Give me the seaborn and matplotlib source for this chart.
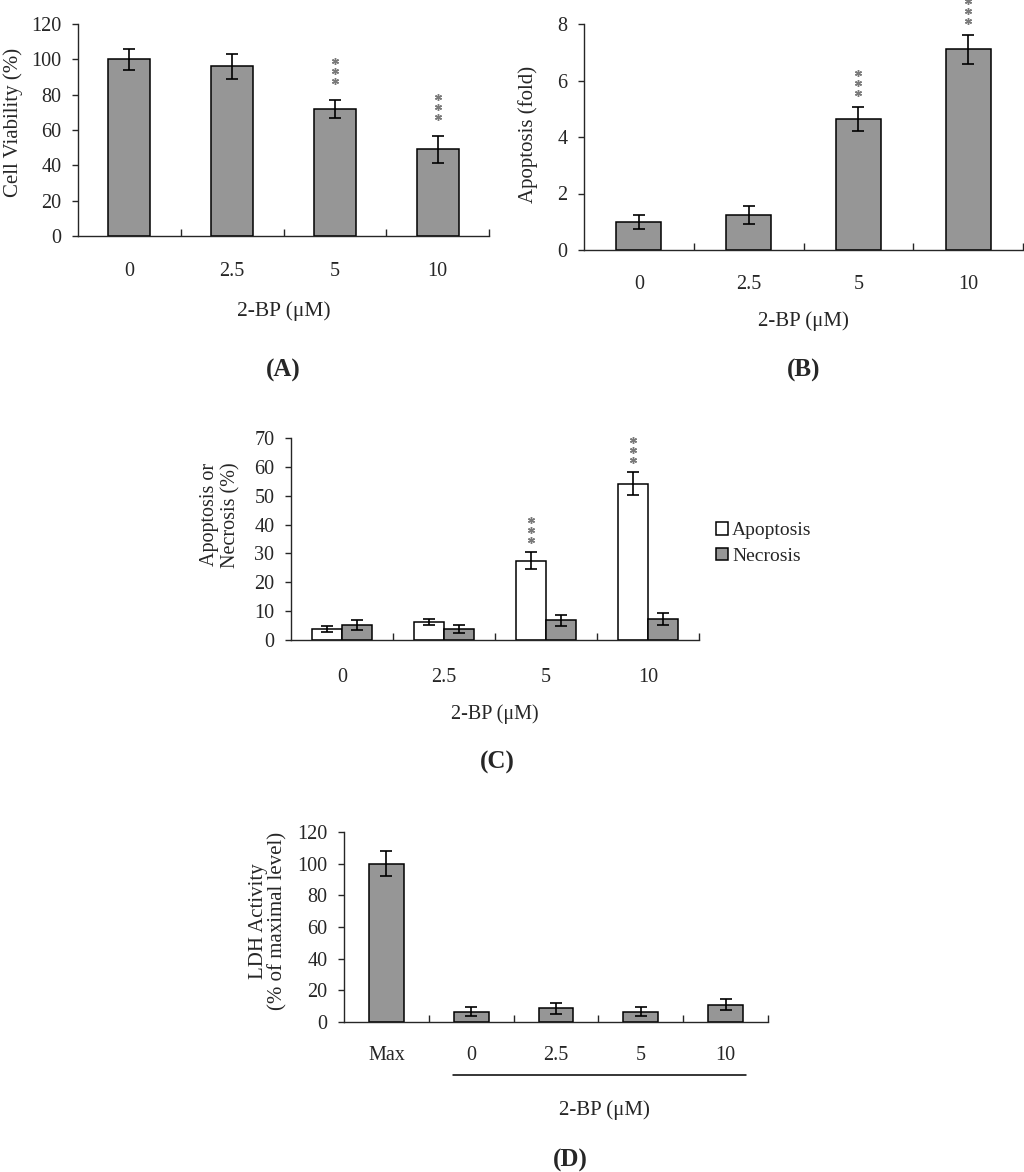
import numpy as np
import pandas as pd
import matplotlib
matplotlib.use("Agg")
import matplotlib.pyplot as plt
import matplotlib.transforms as mtransforms
import seaborn as sns

# ---- data ----
doses = ["0", "2.5", "5", "10"]

# (A) cell viability
viability = [100, 96, 72, 49]
viability_sd = [6, 7, 5, 7.5]

# (B) apoptosis fold
apop_fold = [1.0, 1.23, 4.65, 7.1]
apop_fold_sd = [0.25, 0.32, 0.42, 0.52]

# (C) apoptosis / necrosis %
apoptosis_pct = [3.8, 6.3, 27.5, 54.2]
apoptosis_sd = [0.9, 1.1, 2.9, 4.1]
necrosis_pct = [5.1, 3.7, 6.8, 7.2]
necrosis_sd = [1.7, 1.4, 1.8, 2.0]

# (D) LDH activity
ldh_labels = ["Max", "0", "2.5", "5", "10"]
ldh = [100, 6.5, 8.8, 6.5, 11]
ldh_sd = [8, 3, 3.5, 3, 3.6]

GRAY = "#969696"
STAR = "#7a7a7a"
W, H = 1024, 1172

sns.set_style("ticks")
plt.rcParams["font.family"] = ["Liberation Serif", "DejaVu Serif"]
plt.rcParams["axes.linewidth"] = 1.0

fig = plt.figure(figsize=(W / 100, H / 100), dpi=100)


def make_axes(left, right, top, bottom):
    # pixel box -> figure fraction
    return fig.add_axes([left / W, 1 - bottom / H, (right - left) / W, (bottom - top) / H])


def style_axes(ax, n, ymax, ystep, xpad):
    ax.set_xlim(-0.5, n - 0.5)
    ax.set_ylim(0, ymax)
    ax.set_yticks(np.arange(0, ymax + ystep / 2, ystep))
    ax.yaxis.set_major_formatter(plt.FormatStrFormatter("%g"))
    ax.set_xticks(np.arange(n) + 0.5, minor=True)
    ax.tick_params(axis="x", which="major", length=0, pad=xpad, labelsize=14.5)
    ax.tick_params(axis="x", which="minor", direction="in", length=5, width=1)
    ax.tick_params(axis="y", direction="out", length=4, width=1, labelsize=14.5, pad=8)
    sns.despine(ax=ax)


def add_errors(ax, container, vals, sds):
    xs = [p.get_x() + p.get_width() / 2 for p in container]
    ax.errorbar(xs, vals, yerr=sds, fmt="none", ecolor="black",
                elinewidth=1.2, capsize=4, capthick=1.2, zorder=5)


def add_stars(ax, x, y, first=15, gap=10):
    for k in range(3):
        tr = mtransforms.offset_copy(ax.transData, fig=fig, x=0, y=first + k * gap, units="dots")
        ax.plot([x], [y], marker=(6, 2, 0), ms=5, mew=1, color=STAR,
                transform=tr, clip_on=False, zorder=6)


def centers(container):
    return [p.get_x() + p.get_width() / 2 for p in container]


def panel_letter(ax, x, y, s):
    ax.text(x, y, s, transform=ax.transAxes, ha="center", va="center",
            fontsize=18, fontweight="bold")


# ---------------- (A) ----------------
axA = make_axes(78, 489, 24, 236)
sns.barplot(x=doses, y=viability, color=GRAY, saturation=1, width=0.41,
            edgecolor="black", linewidth=1.1, errorbar=None, ax=axA)
add_errors(axA, axA.containers[0], viability, viability_sd)
style_axes(axA, 4, 120, 20, 19)
cx = centers(axA.containers[0])
for i in [2, 3]:
    add_stars(axA, cx[i], viability[i] + viability_sd[i], first=19)
axA.set_ylabel("Cell Viability (%)", fontsize=15)
axA.yaxis.set_label_coords(-0.135, 0.535)
axA.set_xlabel("2-BP (μM)", fontsize=15.5, va="top")
axA.xaxis.set_label_coords(0.5, -0.31)
panel_letter(axA, 0.5, (236 - 370) / 212, "(A)")

# ---------------- (B) ----------------
axB = make_axes(584, 1023, 24, 250)
sns.barplot(x=doses, y=apop_fold, color=GRAY, saturation=1, width=0.41,
            edgecolor="black", linewidth=1.1, errorbar=None, ax=axB)
add_errors(axB, axB.containers[0], apop_fold, apop_fold_sd)
style_axes(axB, 4, 8, 2, 18)
cx = centers(axB.containers[0])
for i in [2, 3]:
    add_stars(axB, cx[i], apop_fold[i] + apop_fold_sd[i], first=14)
axB.set_ylabel("Apoptosis (fold)", fontsize=15)
axB.yaxis.set_label_coords(-0.105, 0.51)
axB.set_xlabel("2-BP (μM)", fontsize=15, va="top")
axB.xaxis.set_label_coords(0.5, -0.272)
panel_letter(axB, 0.5, (250 - 370) / 226, "(B)")

# ---------------- (C) ----------------
axC = make_axes(291, 699, 438, 640)
dfC = pd.DataFrame({
    "dose": doses * 2,
    "group": ["Apoptosis"] * 4 + ["Necrosis"] * 4,
    "value": apoptosis_pct + necrosis_pct,
})
sns.barplot(data=dfC, x="dose", y="value", hue="group", order=doses,
            palette={"Apoptosis": "white", "Necrosis": GRAY}, saturation=1,
            width=0.59, edgecolor="black", linewidth=1.1, errorbar=None,
            legend=False, ax=axC)
add_errors(axC, axC.containers[0], apoptosis_pct, apoptosis_sd)
add_errors(axC, axC.containers[1], necrosis_pct, necrosis_sd)
style_axes(axC, 4, 70, 10, 20)
cx = centers(axC.containers[0])
for i in [2, 3]:
    add_stars(axC, cx[i], apoptosis_pct[i] + apoptosis_sd[i], first=12)
axC.set_ylabel("Apoptosis or\nNecrosis (%)", fontsize=14.5, linespacing=1.15)
axC.yaxis.set_label_coords(-0.125, 0.62)
axC.set_xlabel("2-BP (μM)", fontsize=14.5, va="top")
axC.xaxis.set_label_coords(0.5, -0.32)
panel_letter(axC, (497 - 291) / 408, (640 - 762) / 202, "(C)")
axC.legend(handles=[axC.containers[0], axC.containers[1]],
           labels=["Apoptosis", "Necrosis"], loc="upper left",
           bbox_to_anchor=(716 / W, 1 - 522 / H), bbox_transform=fig.transFigure,
           frameon=False, fontsize=14, handlelength=0.62, handleheight=0.62,
           handletextpad=0.2, labelspacing=0.45, borderaxespad=0, borderpad=0)

# ---------------- (D) ----------------
axD = make_axes(344, 768, 832, 1022)
sns.barplot(x=ldh_labels, y=ldh, color=GRAY, saturation=1, width=0.41,
            edgecolor="black", linewidth=1.1, errorbar=None, ax=axD)
add_errors(axD, axD.containers[0], ldh, ldh_sd)
style_axes(axD, 5, 120, 20, 17)
axD.set_ylabel("LDH Activity\n(% of maximal level)", fontsize=15, linespacing=1.0)
axD.yaxis.set_label_coords(-0.134, 0.53)
axD.set_xlabel("2-BP (μM)", fontsize=15, va="top")
axD.xaxis.set_label_coords((604 - 344) / 424, -0.41)
ul = mtransforms.blended_transform_factory(axD.transData, axD.transAxes)
axD.plot([0.785, 4.24], [(1022 - 1075) / 190] * 2, color="black", lw=1.1,
         transform=ul, clip_on=False)
panel_letter(axD, (570 - 344) / 424, (1022 - 1160) / 190, "(D)")

fig.savefig("out.png", dpi=100)
